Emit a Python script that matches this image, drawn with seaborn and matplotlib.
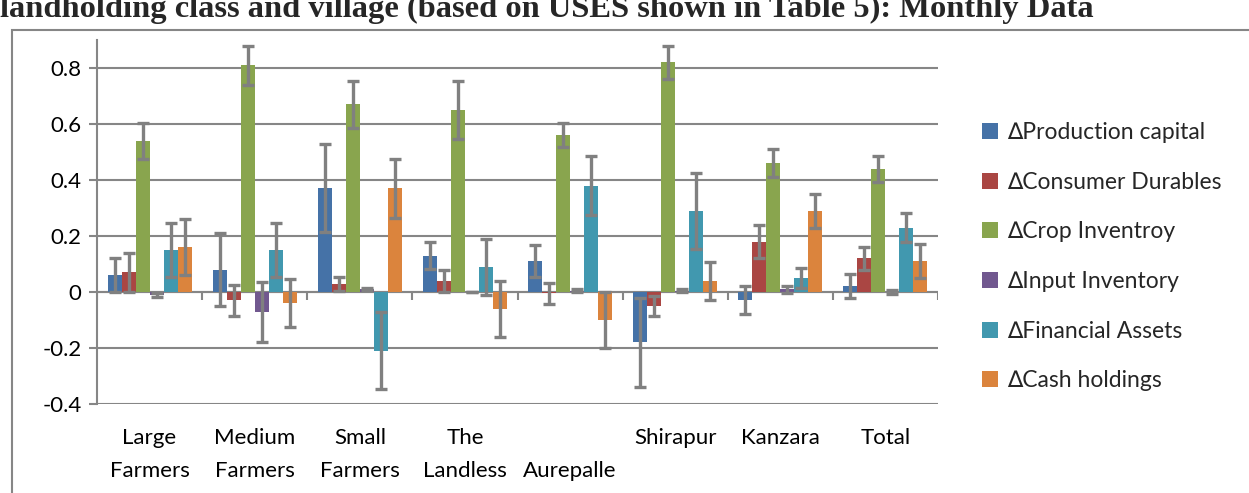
import numpy as np
import pandas as pd
import seaborn as sns
from matplotlib import pyplot as plt
from matplotlib.patches import Rectangle

categories = ["Large\nFarmers", "Medium\nFarmers", "Small\nFarmers", "The\nLandless",
              "\nAurepalle", "Shirapur", "Kanzara", "Total"]
series = ["\u2206Production capital", "\u2206Consumer Durables", "\u2206Crop Inventroy",
          "\u2206Input Inventory", "\u2206Financial Assets", "\u2206Cash holdings"]

production = [0.06, 0.08, 0.37, 0.13, 0.11, -0.18, -0.03, 0.02]
production_err = [0.06, 0.13, 0.157, 0.047, 0.058, 0.158, 0.05, 0.043]
durables = [0.07, -0.03, 0.03, 0.04, -0.005, -0.05, 0.18, 0.12]
durables_err = [0.07, 0.055, 0.025, 0.04, 0.038, 0.034, 0.06, 0.041]
crop = [0.54, 0.81, 0.67, 0.65, 0.56, 0.82, 0.46, 0.44]
crop_err = [0.065, 0.07, 0.083, 0.105, 0.042, 0.06, 0.051, 0.047]
input_inv = [-0.01, -0.07, 0.01, 0.0, 0.005, 0.005, 0.01, 0.0]
input_err = [0.008, 0.107, 0.004, 0.001, 0.005, 0.005, 0.012, 0.007]
financial = [0.15, 0.15, -0.21, 0.09, 0.38, 0.29, 0.05, 0.23]
financial_err = [0.095, 0.095, 0.138, 0.1, 0.106, 0.135, 0.035, 0.053]
cash = [0.16, -0.04, 0.37, -0.06, -0.10, 0.04, 0.29, 0.11]
cash_err = [0.1, 0.085, 0.105, 0.1, 0.1, 0.067, 0.06, 0.061]

colors = ["#4572A7", "#AA4643", "#89A54E", "#71588F", "#4198AF", "#DB843D"]
grid_grey = "#868686"

values = [production, durables, crop, input_inv, financial, cash]
errors = [production_err, durables_err, crop_err, input_err, financial_err, cash_err]

rows = []
for s, vals, errs in zip(series, values, errors):
    for c, v, e in zip(categories, vals, errs):
        rows.append({"category": c, "series": s, "value": v, "err": e})
df = pd.DataFrame(rows)

sns.set_style("white")
plt.rcParams['font.family'] = ['Lato', 'DejaVu Sans']

fig = plt.figure(figsize=(12.49, 4.93), dpi=100)
ax = fig.add_axes([97 / 1249, 1 - 404 / 493, (938 - 97) / 1249, (404 - 40) / 493])

sns.barplot(data=df, x="category", y="value", hue="series", order=categories,
            hue_order=series, palette=colors, saturation=1, errorbar=None,
            width=0.8, ax=ax, zorder=3, linewidth=0)

# error bars on top of every bar
for cont, s in zip(ax.containers, series):
    sub = df[df["series"] == s].set_index("category").loc[categories]
    xs = [b.get_x() + b.get_width() / 2 for b in cont]
    ax.errorbar(xs, sub["value"].values, yerr=sub["err"].values, fmt="none",
                ecolor="#808080", elinewidth=2.4, capsize=4.5, capthick=2.4, zorder=4)

ax.set_ylim(-0.4, 0.9)
ax.set_xlim(-0.5, len(categories) - 0.5)
ax.set_yticks(np.arange(-0.4, 0.81, 0.2))
ax.set_yticklabels(["-0.4", "-0.2", "0", "0.2", "0.4", "0.6", "0.8"])
ax.yaxis.grid(True, color=grid_grey, linewidth=1.5, zorder=0)
ax.set_axisbelow(True)
ax.tick_params(axis="y", length=6, width=1.5, color=grid_grey, labelsize=16, pad=5,
               labelcolor="black", left=True)
ax.tick_params(axis="x", length=0, labelsize=16, pad=17, labelcolor="black")
for lbl in ax.get_xticklabels():
    lbl.set_linespacing(1.85)

# category axis at zero with boundary ticks
ax.axhline(0, color=grid_grey, linewidth=1.5, zorder=2)
ax.vlines(np.arange(len(categories) + 1) - 0.5, -0.028, 0, color=grid_grey,
          linewidth=1.5, zorder=2)

for side in ["top", "right", "bottom"]:
    ax.spines[side].set_visible(False)
ax.spines["left"].set_color(grid_grey)
ax.spines["left"].set_linewidth(1.5)
ax.set_xlabel("")
ax.set_ylabel("")

ax.legend(loc="center left", bbox_to_anchor=(1.041, 0.405), frameon=False, fontsize=16.5,
          handlelength=0.7, handleheight=0.7, handletextpad=0.4, labelspacing=1.25,
          borderaxespad=0)

# chart area border
fig.patches.append(Rectangle((12 / 1249, -0.1), 1.2, 1.1 - 30 / 493,
                             transform=fig.transFigure, fill=False,
                             edgecolor=grid_grey, linewidth=1.5))

# title of the page, cut at the top edge as in the source
fig.text(0, 1 - 17 / 493, "landholding class and village (based on USES shown in Table 5): Monthly Data",
         fontsize=23.4, fontweight="bold", family="Liberation Serif", va="baseline", ha="left")

plt.savefig("out.png", dpi=100)
